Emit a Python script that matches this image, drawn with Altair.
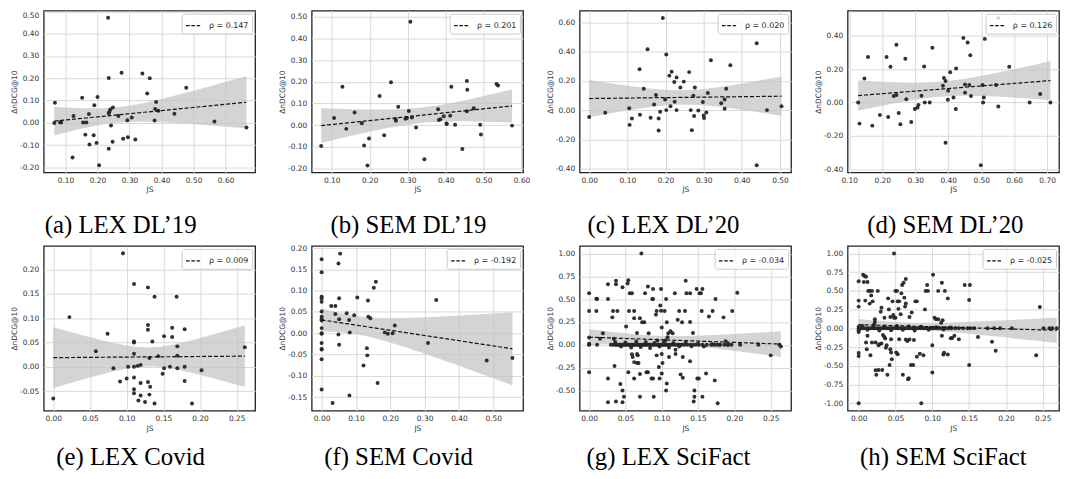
import altair as alt
import numpy as np
import pandas as pd

# ---------------- data ----------------
A_JS = [0.065,0.067,0.083,0.086,0.122,0.125,0.152,0.155,0.165,0.162,0.173,0.175,0.190,0.188,0.197,0.200,0.205,0.233,0.235,0.235,0.237,0.240,0.242,0.235,0.248,0.247,0.265,0.275,0.280,0.293,0.295,0.307,0.318,0.340,0.355,0.363,0.378,0.380,0.383,0.390,0.440,0.477,0.565,0.665]
A_D = [-0.001,0.090,0.003,0.001,-0.156,0.031,0.113,0.001,0.001,-0.053,0.040,-0.097,0.079,-0.056,-0.090,0.116,-0.190,0.472,0.201,0.043,0.050,0.060,-0.012,-0.116,0.069,-0.085,0.031,0.225,-0.071,0.012,-0.065,0.024,-0.075,0.221,0.132,0.200,0.010,0.062,0.093,0.054,0.041,0.157,0.006,-0.021]

B_JS = [0.072,0.106,0.128,0.138,0.160,0.179,0.185,0.194,0.198,0.226,0.238,0.256,0.268,0.269,0.275,0.294,0.298,0.303,0.307,0.311,0.322,0.344,0.380,0.382,0.386,0.395,0.402,0.403,0.412,0.415,0.425,0.444,0.456,0.457,0.456,0.474,0.491,0.493,0.534,0.538,0.575]
B_D = [-0.096,0.033,0.177,-0.017,0.058,0.009,-0.094,-0.186,-0.061,0.134,-0.046,0.198,0.027,0.020,0.085,0.030,0.033,0.065,0.476,0.035,-0.011,-0.157,0.073,0.024,0.027,0.041,0.008,0.005,0.044,0.177,0.002,-0.110,0.204,0.163,0.064,0.078,0.002,-0.043,0.190,0.183,-0.002]

C_JS = [0.000,0.042,0.105,0.106,0.112,0.132,0.133,0.143,0.153,0.161,0.170,0.175,0.182,0.182,0.186,0.193,0.199,0.202,0.202,0.210,0.213,0.216,0.223,0.224,0.229,0.229,0.239,0.248,0.262,0.266,0.269,0.273,0.275,0.277,0.286,0.298,0.300,0.301,0.307,0.311,0.319,0.346,0.355,0.355,0.359,0.370,0.439,0.439,0.466,0.504]
C_D = [-0.047,-0.018,0.013,-0.101,-0.058,0.280,-0.031,0.146,0.417,-0.052,0.038,0.103,-0.058,-0.139,-0.011,0.630,0.072,0.381,0.000,0.236,0.027,0.262,0.193,0.058,0.224,0.000,0.155,0.195,0.260,0.000,-0.137,0.099,-0.040,0.155,-0.002,0.056,-0.036,-0.054,-0.016,0.117,0.341,0.047,0.072,0.009,0.146,0.307,0.457,-0.377,0.000,0.027]

D_JS = [0.127,0.131,0.146,0.157,0.170,0.193,0.213,0.218,0.225,0.235,0.243,0.243,0.250,0.255,0.270,0.273,0.288,0.299,0.307,0.310,0.319,0.327,0.329,0.344,0.352,0.384,0.387,0.392,0.392,0.399,0.400,0.406,0.416,0.423,0.424,0.446,0.451,0.451,0.459,0.464,0.467,0.469,0.499,0.504,0.506,0.508,0.511,0.545,0.552,0.585,0.647,0.679,0.710,0.552]
D_D = [0.000,-0.126,0.144,0.272,-0.138,-0.075,0.272,-0.087,0.213,0.039,0.345,0.045,-0.063,-0.130,0.262,0.020,-0.116,-0.039,-0.030,-0.014,0.041,0.215,0.000,0.000,0.327,0.100,0.146,0.128,-0.240,0.016,0.071,0.181,0.030,-0.039,0.203,0.386,0.108,0.059,0.359,0.104,0.282,0.039,-0.374,0.104,0.000,0.030,0.380,0.104,-0.024,0.213,0.000,0.051,0.000,0.504]

E_JS = [0.000,0.022,0.058,0.074,0.082,0.091,0.095,0.100,0.102,0.110,0.110,0.110,0.110,0.110,0.110,0.110,0.110,0.115,0.116,0.119,0.119,0.119,0.125,0.129,0.129,0.129,0.129,0.131,0.131,0.132,0.135,0.138,0.138,0.143,0.149,0.151,0.151,0.159,0.162,0.162,0.168,0.169,0.169,0.169,0.179,0.179,0.179,0.189,0.202,0.261]
E_D = [-0.065,0.102,0.032,0.068,-0.003,-0.030,0.233,-0.024,0.000,0.170,0.052,0.050,0.027,0.000,-0.022,-0.046,-0.054,0.002,-0.069,0.004,-0.033,-0.059,-0.072,0.163,0.086,0.076,-0.031,0.018,-0.057,-0.041,0.052,-0.075,0.144,0.022,-0.014,-0.003,0.063,0.000,0.080,0.061,0.144,0.042,0.023,-0.003,0.000,-0.029,0.077,-0.075,-0.007,0.040]

F_JS = [0.000,0.000,0.000,0.000,0.000,0.000,0.000,0.000,0.000,0.000,0.000,0.000,0.000,0.000,0.000,0.000,0.000,
        0.028,0.032,0.040,0.040,0.049,0.051,0.049,0.051,0.051,0.054,0.073,0.080,0.082,0.081,0.095,0.104,0.122,0.132,0.133,0.135,0.136,0.142,0.152,0.158,0.163,0.184,0.193,0.207,0.213,0.310,0.334,0.481,0.556]
F_D = [0.174,0.143,0.086,0.082,0.074,0.051,0.039,0.033,0.030,0.012,0.000,-0.001,-0.023,-0.037,-0.038,-0.061,-0.132,
       0.064,-0.164,0.064,0.045,0.164,0.033,-0.003,-0.027,0.082,0.187,0.047,0.031,0.002,-0.146,0.042,0.084,-0.076,-0.035,-0.052,0.077,0.039,0.035,0.107,0.121,-0.117,0.002,-0.001,0.000,0.018,-0.023,0.078,-0.064,-0.058]

G_PTS = [(0.000,0.565),(0.000,0.370),(0.000,0.080),(0.000,0.000),(0.000,0.005),(0.000,-0.300),
         (0.010,0.505),(0.011,0.500),(0.010,0.370),(0.011,0.000),(0.015,0.065),(0.019,0.127),
         (0.026,0.663),(0.026,0.500),(0.026,-0.370),(0.026,-0.630),
         (0.032,0.300),(0.033,0.370),(0.034,0.065),(0.035,-0.232),
         (0.037,0.700),(0.037,0.663),(0.039,0.370),(0.037,-0.620),
         (0.043,-0.430),(0.046,0.630),(0.046,-0.500),(0.046,-0.630),(0.048,-0.570),
         (0.051,0.200),(0.053,0.670),(0.054,0.706),(0.055,0.370),(0.054,-0.300),
         (0.056,0.565),(0.059,0.565),(0.059,-0.105),(0.060,-0.134),(0.062,-0.190),(0.062,0.370),(0.062,-0.370),(0.062,0.290),
         (0.066,0.130),(0.066,-0.100),(0.067,-0.116),(0.066,-0.200),(0.068,-0.200),
         (0.070,0.290),(0.070,-0.570),(0.072,1.000),(0.073,0.246),(0.076,0.246),(0.070,-0.320),
         (0.077,0.565),(0.079,-0.300),(0.081,-0.300),(0.081,0.638),(0.082,0.127),
         (0.086,-0.370),(0.088,-0.370),(0.087,0.500),(0.088,0.500),(0.088,0.610),(0.089,-0.570),
         (0.092,0.330),(0.093,0.370),(0.093,-0.116),(0.094,0.047),(0.096,-0.243),(0.097,-0.370),
         (0.098,0.430),(0.099,0.610),(0.099,0.373),(0.100,0.190),(0.100,-0.100),(0.101,-0.200),(0.100,-0.315),
         (0.104,0.370),(0.105,0.047),(0.106,0.500),(0.106,-0.500),(0.107,-0.425),(0.107,0.246),(0.108,0.083),(0.109,0.127),(0.110,-0.134),
         (0.112,0.149),(0.115,0.127),(0.118,0.565),(0.119,-0.054),(0.119,-0.100),
         (0.122,0.275),(0.124,0.370),(0.126,-0.326),(0.129,-0.362),(0.128,0.246),(0.129,-0.134),
         (0.132,0.370),(0.133,0.700),(0.134,0.565),(0.139,0.565),(0.139,0.250),(0.139,-0.180),
         (0.143,0.130),(0.145,-0.500),(0.145,-0.570),(0.144,-0.620),(0.148,0.610),(0.149,-0.370),(0.151,-0.370),
         (0.152,0.565),(0.154,0.565),(0.156,0.610),(0.155,0.370),(0.156,-0.570),(0.161,-0.315),
         (0.165,0.310),(0.170,0.370),(0.174,0.500),(0.173,-0.390),(0.177,-0.640),
         (0.185,0.300),(0.188,0.040),(0.197,0.370),(0.204,0.570),(0.208,0.000),(0.233,0.000),
         (0.250,-0.116),(0.262,0.000),(0.264,-0.018),
         (0.000,0.010),(0.036,0.030),(0.044,-0.020),(0.050,0.025),(0.058,-0.030),(0.065,0.035),(0.071,-0.025),
         (0.078,0.030),(0.084,-0.035),(0.090,0.020),(0.097,-0.020),(0.103,0.030),(0.110,-0.030),(0.116,0.020),
         (0.124,-0.020),(0.133,0.025),(0.141,-0.015),(0.150,0.010),(0.158,-0.020),(0.170,0.005),(0.180,0.000),
         (0.190,0.000),(0.196,0.000)]
G_ZERO_JS = [0.030,0.033,0.036,0.038,0.040,0.042,0.044,0.046,0.048,0.050,0.052,0.054,0.056,0.058,0.060,0.062,0.064,
             0.066,0.068,0.070,0.072,0.074,0.076,0.078,0.080,0.082,0.084,0.086,0.088,0.090,0.092,0.094,0.096,0.098,
             0.100,0.102,0.104,0.106,0.108,0.110,0.113,0.116,0.119,0.122,0.125,0.128,0.131,0.135,0.139,0.143,0.147,
             0.151,0.156,0.162,0.168,0.172,0.176,0.180,0.186,0.192]

H_PTS = [(0.000,0.630),(0.000,0.370),(0.000,0.290),(0.000,0.020),(0.000,-0.030),(0.000,-0.050),(0.000,-0.330),(0.000,-0.370),(0.000,-1.000),
         (0.006,0.715),(0.008,0.700),(0.010,0.690),(0.007,0.620),(0.012,0.620),(0.009,0.370),(0.010,-0.190),(0.011,-0.280),(0.012,-0.100),
         (0.013,0.500),(0.015,0.500),(0.018,0.500),(0.015,0.330),(0.017,0.440),(0.018,-0.190),(0.016,-0.360),(0.019,0.360),
         (0.021,0.053),(0.022,0.085),(0.022,0.120),(0.023,-0.190),(0.024,-0.620),(0.023,-0.560),(0.026,0.500),(0.027,-0.555),(0.027,-0.227),(0.028,-0.213),
         (0.030,0.220),(0.031,0.275),(0.031,-0.204),(0.032,-0.555),(0.033,-0.090),(0.035,-0.115),(0.036,-0.137),(0.035,0.142),(0.037,-0.260),(0.038,-0.227),(0.039,-0.620),
         (0.040,0.400),(0.041,0.253),(0.042,-0.490),(0.043,0.150),(0.043,-0.280),(0.044,-0.324),(0.044,-0.147),(0.045,-0.413),(0.046,0.360),(0.047,0.178),(0.048,0.142),(0.050,0.142),(0.048,1.000),
         (0.050,0.500),(0.052,0.500),(0.051,-0.324),(0.053,-0.347),(0.053,0.360),(0.055,0.360),(0.054,0.260),(0.055,-0.147),(0.057,0.187),(0.058,0.467),(0.059,0.578),(0.061,0.610),(0.060,-0.620),
         (0.062,0.410),(0.063,0.290),(0.064,0.333),(0.064,0.660),(0.064,-0.150),(0.066,-0.170),(0.069,-0.150),(0.067,-0.680),(0.068,-0.667),(0.069,0.150),(0.072,0.210),(0.071,-0.490),(0.074,-0.490),(0.075,-0.155),
         (0.077,0.360),(0.079,0.360),(0.079,-0.378),(0.083,-0.340),(0.085,-1.000),(0.088,-0.360),(0.090,0.253),(0.091,0.500),(0.094,0.500),(0.093,0.578),
         (0.100,-0.227),(0.100,-0.590),(0.101,0.715),(0.103,0.142),(0.108,0.500),(0.105,0.120),(0.108,0.120),(0.112,0.076),(0.113,-0.100),(0.113,0.610),(0.114,0.107),(0.115,-0.350),(0.116,-0.325),(0.117,0.500),(0.121,0.400),(0.121,-0.350),
         (0.125,-0.133),(0.127,-0.130),(0.130,-0.100),(0.136,-0.147),(0.144,0.578),(0.151,0.578),(0.150,0.378),(0.150,-0.490),(0.162,-0.115),(0.181,-0.180),(0.186,-0.300),(0.246,0.284),(0.241,-0.360),
         (0.005,0.030),(0.012,-0.020),(0.020,0.025),(0.028,-0.030),(0.035,0.020),(0.044,-0.025),(0.052,0.030),(0.060,-0.020),
         (0.068,0.025),(0.076,-0.030),(0.085,0.020),(0.095,-0.020),(0.105,0.015),(0.115,-0.015),(0.125,0.010)]
H_ZERO_JS = [0.000,0.003,0.006,0.009,0.012,0.015,0.018,0.021,0.024,0.027,0.030,0.033,0.036,0.039,0.042,0.045,0.048,
             0.051,0.054,0.057,0.060,0.063,0.066,0.069,0.072,0.075,0.078,0.081,0.084,0.087,0.090,0.093,0.096,0.099,
             0.102,0.106,0.110,0.114,0.118,0.122,0.126,0.131,0.136,0.142,0.148,0.152,0.157,0.175,0.184,0.192,0.208,
             0.251,0.259,0.263,0.269]

RHO = ["ρ = 0.147", "ρ = 0.201", "ρ = 0.020", "ρ = 0.126",
       "ρ = 0.009", "ρ = -0.192", "ρ = -0.034", "ρ = -0.025"]
CAPTIONS = ["(a) LEX DL’19", "(b) SEM DL’19", "(c) LEX DL’20", "(d) SEM DL’20",
            "(e) LEX Covid", "(f) SEM Covid", "(g) LEX SciFact", "(h) SEM SciFact"]

X_DOMAINS = [[0.032, 0.692], [0.047, 0.604], [-0.025, 0.529], [0.095, 0.736],
             [-0.013, 0.275], [-0.029, 0.587], [-0.013, 0.278], [-0.015, 0.272]]
Y_DOMAINS = [[-0.223, 0.503], [-0.218, 0.527], [-0.427, 0.680], [-0.418, 0.548],
             [-0.090, 0.248], [-0.182, 0.205], [-0.722, 1.082], [-1.100, 1.100]]
X_TICKS = [[0.1, 0.2, 0.3, 0.4, 0.5, 0.6], [0.1, 0.2, 0.3, 0.4, 0.5, 0.6],
           [0.0, 0.1, 0.2, 0.3, 0.4, 0.5], [0.1, 0.2, 0.3, 0.4, 0.5, 0.6, 0.7],
           [0.0, 0.05, 0.1, 0.15, 0.2, 0.25], [0.0, 0.1, 0.2, 0.3, 0.4, 0.5],
           [0.0, 0.05, 0.1, 0.15, 0.2, 0.25], [0.0, 0.05, 0.1, 0.15, 0.2, 0.25]]
Y_TICKS = [[-0.2, -0.1, 0.0, 0.1, 0.2, 0.3, 0.4, 0.5], [-0.2, -0.1, 0.0, 0.1, 0.2, 0.3, 0.4, 0.5],
           [-0.4, -0.2, 0.0, 0.2, 0.4, 0.6], [-0.4, -0.2, 0.0, 0.2, 0.4],
           [-0.05, 0.0, 0.05, 0.1, 0.15, 0.2], [-0.15, -0.1, -0.05, 0.0, 0.05, 0.1, 0.15, 0.2],
           [-0.5, -0.25, 0.0, 0.25, 0.5, 0.75, 1.0], [-1.0, -0.75, -0.5, -0.25, 0.0, 0.25, 0.5, 0.75, 1.0]]
CAPTION_DX = [-29, -9, -22, -8, -19, -19, -17, -10]

# ---------------- layout / style ----------------
W = 213
H_TOP = 163
H_BOT = 166
LBL = "replace(format(datum.value, '.2f'), '\u2212', '-')"


def points_of(i):
    if i == 0:
        return A_JS, A_D
    if i == 1:
        return B_JS, B_D
    if i == 2:
        return C_JS, C_D
    if i == 3:
        return D_JS, D_D
    if i == 4:
        return E_JS, E_D
    if i == 5:
        return F_JS, F_D
    if i == 6:
        return [p[0] for p in G_PTS] + G_ZERO_JS, [p[1] for p in G_PTS] + [0.0 for _ in G_ZERO_JS]
    return [p[0] for p in H_PTS] + H_ZERO_JS, [p[1] for p in H_PTS] + [0.0 for _ in H_ZERO_JS]


def panel(i):
    js, d = points_of(i)
    pts = pd.DataFrame({"JS": js, "D": d})
    x = np.asarray(js, dtype=float)
    y = np.asarray(d, dtype=float)
    n = len(x)
    b, a = np.polyfit(x, y, 1)
    grid = np.linspace(x.min(), x.max(), 80)
    fit = a + b * grid
    res = y - (a + b * x)
    s = np.sqrt((res ** 2).sum() / (n - 2))
    se = s * np.sqrt(1.0 / n + (grid - x.mean()) ** 2 / ((x - x.mean()) ** 2).sum())
    band = pd.DataFrame({"JS": grid, "D": fit, "lo": fit - 1.97 * se, "hi": fit + 1.97 * se, "lab": RHO[i]})

    xs = alt.Scale(domain=X_DOMAINS[i], nice=False, zero=False)
    ys = alt.Scale(domain=Y_DOMAINS[i], nice=False, zero=False)
    xax = alt.Axis(values=X_TICKS[i], title="JS", labelExpr=LBL)
    ykw = dict(values=Y_TICKS[i], title="ΔnDCG@10", labelExpr=LBL)
    if i == 0:
        ykw["labelBaseline"] = {"condition": {"test": "datum.value > 0.45", "value": "top"}, "value": "middle"}
    yax = alt.Axis(**ykw)

    X = alt.X("JS:Q", scale=xs, axis=xax)
    area = alt.Chart(band).mark_area(color="#c4c4c4", opacity=0.72).encode(
        x=X, y=alt.Y("lo:Q", scale=ys, axis=yax), y2="hi:Q")
    dots = alt.Chart(pts).mark_circle(size=16, color="#262626", opacity=0.95).encode(
        x=X, y=alt.Y("D:Q", scale=ys, axis=yax))
    line = alt.Chart(band).mark_line(strokeDash=[4, 2], strokeWidth=1.2).encode(
        x=X, y=alt.Y("D:Q", scale=ys, axis=yax),
        color=alt.Color("lab:N", scale=alt.Scale(range=["#111111"]),
                        legend=alt.Legend(title=None, orient="top-right", offset=3, padding=3.5,
                                          cornerRadius=2, strokeColor="#cccccc",
                                          fillColor="rgba(255,255,255,0.8)",
                                          symbolType="stroke", symbolDash=[3.6, 1.7],
                                          symbolStrokeWidth=1.2, symbolSize=230,
                                          labelFont="DejaVu Sans", labelFontSize=8,
                                          labelColor="#262626", labelOffset=7)))
    h = H_TOP if i < 4 else H_BOT
    cap = alt.TitleParams(text=CAPTIONS[i], orient="bottom", anchor="middle", font="Liberation Serif",
                          fontSize=25, fontWeight="normal", color="#000000",
                          offset=20 if i < 4 else 14, dx=CAPTION_DX[i], baseline="top")
    return alt.layer(area, dots, line).properties(width=W, height=h, title=cap)


panels = [panel(i) for i in range(8)]

chart = alt.concat(*panels, columns=4, spacing={"row": 74, "column": 57}, bounds="flush").resolve_scale(
    color="independent", x="independent", y="independent").resolve_legend(color="independent").properties(
    padding={"left": 2, "top": 0, "right": 0, "bottom": 0}
).configure_view(
    stroke="#222222", strokeWidth=1.3
).configure_axis(
    labelFont="DejaVu Sans", labelFontSize=7.5, labelColor="#333333",
    titleFont="DejaVu Sans", titleFontSize=7.5, titleFontWeight="normal", titleColor="#333333",
    gridColor="#d9d9d9", gridWidth=1, domain=False, ticks=False, labelPadding=4
).configure_axisY(
    minExtent=23, maxExtent=23, titlePadding=2, labelPadding=5
).configure_axisX(
    titlePadding=2
)

chart.save("out.html", embed_options={"renderer": "svg", "actions": False})
